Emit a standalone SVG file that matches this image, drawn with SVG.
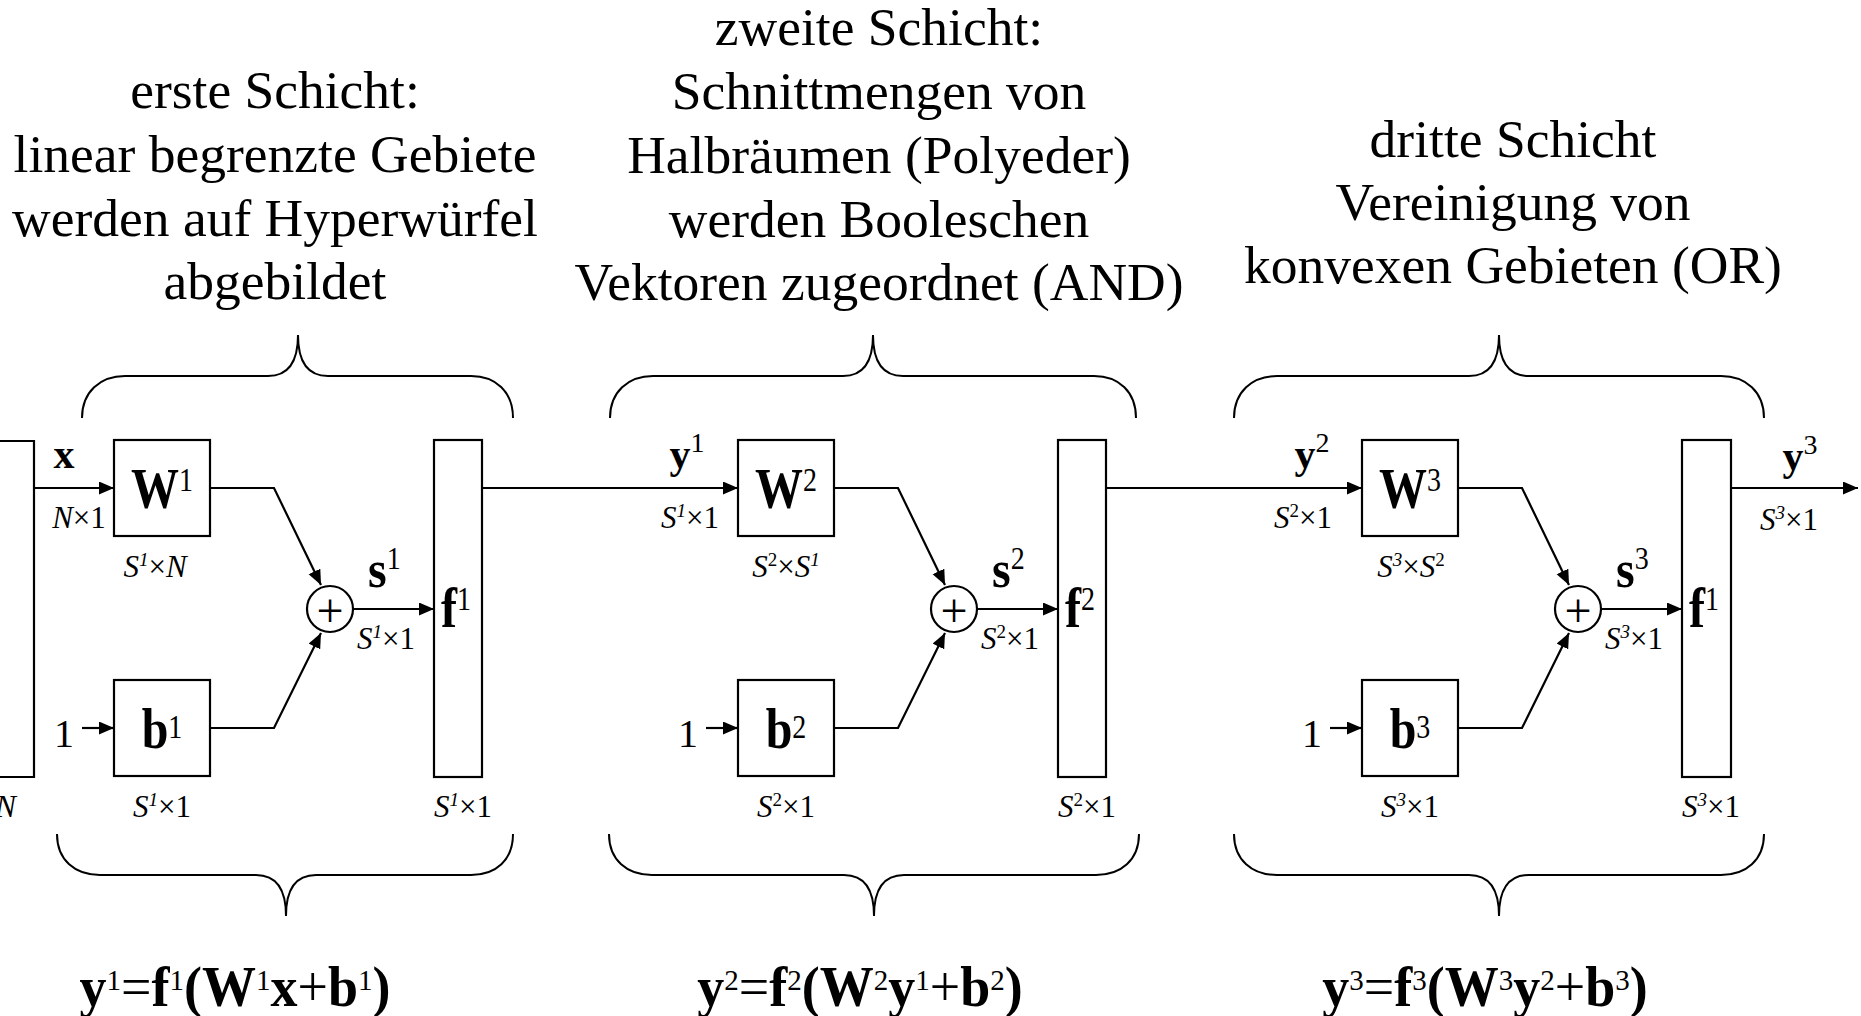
<svg xmlns="http://www.w3.org/2000/svg" width="1861" height="1016" viewBox="0 0 1861 1016">
<style>
.t{font-family:"Liberation Serif","Times New Roman",serif;fill:#000}
.big{font-size:53.5px}
.lbl{font-size:48px;font-weight:bold}
.vec{font-size:42px;font-weight:bold}
.sb{font-size:28px;font-weight:normal}
.dim{font-size:31px}
.ss{font-size:19px}
.i{font-style:italic}
.one{font-size:40px}
.plus{font-size:48px}
.eq{font-size:54px;font-weight:bold}
.es{font-size:29px;font-weight:normal}
.r{font-weight:normal}
.box{fill:#fff;stroke:#000;stroke-width:2.2}
.ln{fill:none;stroke:#000;stroke-width:2.2}
.ar{fill:none;stroke:#000;stroke-width:2.2;marker-end:url(#ah)}
.br{fill:none;stroke:#000;stroke-width:2}
</style>
<defs>
<marker id="ah" markerUnits="userSpaceOnUse" markerWidth="16" markerHeight="14" refX="15" refY="6.5" orient="auto">
<path d="M0,0 L15,6.5 L0,13 z" fill="#000"/>
</marker>
</defs>
<rect width="1861" height="1016" fill="#fff"/>

<g id="headings">
<text class="t big" text-anchor="middle" x="275" y="108">erste Schicht:</text>
<text class="t big" text-anchor="middle" x="275" y="172">linear begrenzte Gebiete</text>
<text class="t big" text-anchor="middle" x="275" y="236">werden auf Hyperwürfel</text>
<text class="t big" text-anchor="middle" x="275" y="299">abgebildet</text>
<text class="t big" text-anchor="middle" x="879" y="45">zweite Schicht:</text>
<text class="t big" text-anchor="middle" x="879" y="109">Schnittmengen von</text>
<text class="t big" text-anchor="middle" x="879" y="173">Halbräumen (Polyeder)</text>
<text class="t big" text-anchor="middle" x="879" y="237">werden Booleschen</text>
<text class="t big" text-anchor="middle" x="879" y="300">Vektoren zugeordnet (AND)</text>
<text class="t big" text-anchor="middle" x="1513" y="157">dritte Schicht</text>
<text class="t big" text-anchor="middle" x="1513" y="220">Vereinigung von</text>
<text class="t big" text-anchor="middle" x="1513" y="283">konvexen Gebieten (OR)</text>
</g>

<g id="braces">
<path class="br" d="M82,418 C82,392 100,376 125,376 L268,376 C288,376 298,362 298,335 C298,362 308,376 328,376 L471,376 C496,376 513,392 513,418"/>
<path class="br" d="M610,418 C610,392 628,376 653,376 L843,376 C863,376 873,362 873,335 C873,362 883,376 903,376 L1094,376 C1119,376 1136,392 1136,418"/>
<path class="br" d="M1234,418 C1234,392 1252,376 1277,376 L1469,376 C1489,376 1499,362 1499,335 C1499,362 1509,376 1529,376 L1721,376 C1746,376 1764,392 1764,418"/>
<path class="br" d="M57,834 C57,860 75,875 100,875 L256,875 C276,875 286,889 286,916 C286,889 296,875 316,875 L471,875 C496,875 513,860 513,834"/>
<path class="br" d="M609,834 C609,860 627,875 652,875 L844,875 C864,875 874,889 874,916 C874,889 884,875 904,875 L1096,875 C1121,875 1139,860 1139,834"/>
<path class="br" d="M1234,834 C1234,860 1252,875 1277,875 L1469,875 C1489,875 1499,889 1499,916 C1499,889 1509,875 1529,875 L1721,875 C1746,875 1764,860 1764,834"/>
</g>

<g id="connectors">
<line class="ar" x1="34" y1="488" x2="114" y2="488"/>
<line class="ar" x1="82" y1="728" x2="114" y2="728"/>
<polyline class="ar" points="210,488 274,488 321,585"/>
<polyline class="ar" points="210,728 274,728 321,633"/>
<line class="ar" x1="354" y1="609" x2="434" y2="609"/>
<line class="ar" x1="482" y1="488" x2="738" y2="488"/>
<line class="ar" x1="706" y1="728" x2="738" y2="728"/>
<polyline class="ar" points="834,488 898,488 945,585"/>
<polyline class="ar" points="834,728 898,728 945,633"/>
<line class="ar" x1="978" y1="609" x2="1058" y2="609"/>
<line class="ar" x1="1106" y1="488" x2="1362" y2="488"/>
<line class="ar" x1="1330" y1="728" x2="1362" y2="728"/>
<polyline class="ar" points="1458,488 1522,488 1569,585"/>
<polyline class="ar" points="1458,728 1522,728 1569,633"/>
<line class="ar" x1="1602" y1="609" x2="1682" y2="609"/>
<line class="ar" x1="1731" y1="488" x2="1858" y2="488"/>
</g>

<g id="input">
<path class="ln" d="M-5,441 L34,441 L34,777 L-5,777"/>
<text class="t dim i" text-anchor="end" x="16" y="817">N</text>
<text class="t vec" text-anchor="middle" x="64" y="468">x</text>
<text class="t dim" text-anchor="middle" x="79" y="528"><tspan class="i">N</tspan>×1</text>
<text class="t one" text-anchor="middle" x="64" y="747">1</text>
</g>

<g id="W1">
<rect class="box" x="114" y="440" width="96" height="96"/>
<text class="t lbl" text-anchor="middle" transform="translate(162,508) scale(1,1.2)">W<tspan class="sb" dy="-14">1</tspan></text>
<text class="t dim" text-anchor="middle" x="155" y="577"><tspan class="i">S</tspan><tspan class="i ss" dy="-11">1</tspan><tspan dy="11">×</tspan><tspan class="i">N</tspan></text>
</g>
<g id="b1">
<rect class="box" x="114" y="680" width="96" height="96"/>
<text class="t lbl" text-anchor="middle" transform="translate(162,748) scale(1,1.2)">b<tspan class="sb" dy="-8">1</tspan></text>
<text class="t dim" text-anchor="middle" x="162" y="817"><tspan class="i">S</tspan><tspan class="i ss" dy="-11">1</tspan><tspan dy="11">×1</tspan></text>
</g>
<g id="sum1">
<circle class="box" cx="330" cy="609" r="23"/>
<text class="t plus" text-anchor="middle" x="330" y="627">+</text>
<text class="t lbl" transform="translate(368,587) scale(1,1.1)">s<tspan class="sb" dy="-16">1</tspan></text>
<text class="t dim" text-anchor="middle" x="386" y="649"><tspan class="i">S</tspan><tspan class="i ss" dy="-11">1</tspan><tspan dy="11">×1</tspan></text>
</g>
<g id="f1">
<rect class="box" x="434" y="440" width="48" height="337"/>
<text class="t lbl" transform="translate(441,627) scale(1,1.2)">f<tspan class="sb" dy="-14">1</tspan></text>
<text class="t dim" text-anchor="middle" x="463" y="817"><tspan class="i">S</tspan><tspan class="i ss" dy="-11">1</tspan><tspan dy="11">×1</tspan></text>
</g>

<g id="y1label">
<text class="t vec" text-anchor="middle" x="687" y="468">y<tspan class="sb" dy="-16">1</tspan></text>
<text class="t dim" text-anchor="middle" x="690" y="528"><tspan class="i">S</tspan><tspan class="i ss" dy="-11">1</tspan><tspan dy="11">×1</tspan></text>
<text class="t one" text-anchor="middle" x="688" y="747">1</text>
</g>
<g id="W2">
<rect class="box" x="738" y="440" width="96" height="96"/>
<text class="t lbl" text-anchor="middle" transform="translate(786,508) scale(1,1.2)">W<tspan class="sb" dy="-14">2</tspan></text>
<text class="t dim" text-anchor="middle" x="786" y="577"><tspan class="i">S</tspan><tspan class="ss" dy="-11">2</tspan><tspan dy="11">×</tspan><tspan class="i">S</tspan><tspan class="i ss" dy="-11">1</tspan></text>
</g>
<g id="b2">
<rect class="box" x="738" y="680" width="96" height="96"/>
<text class="t lbl" text-anchor="middle" transform="translate(786,748) scale(1,1.2)">b<tspan class="sb" dy="-8">2</tspan></text>
<text class="t dim" text-anchor="middle" x="786" y="817"><tspan class="i">S</tspan><tspan class="ss" dy="-11">2</tspan><tspan dy="11">×1</tspan></text>
</g>
<g id="sum2">
<circle class="box" cx="954" cy="609" r="23"/>
<text class="t plus" text-anchor="middle" x="954" y="627">+</text>
<text class="t lbl" transform="translate(992,587) scale(1,1.1)">s<tspan class="sb" dy="-16">2</tspan></text>
<text class="t dim" text-anchor="middle" x="1010" y="649"><tspan class="i">S</tspan><tspan class="ss" dy="-11">2</tspan><tspan dy="11">×1</tspan></text>
</g>
<g id="f2">
<rect class="box" x="1058" y="440" width="48" height="337"/>
<text class="t lbl" transform="translate(1065,627) scale(1,1.2)">f<tspan class="sb" dy="-14">2</tspan></text>
<text class="t dim" text-anchor="middle" x="1087" y="817"><tspan class="i">S</tspan><tspan class="ss" dy="-11">2</tspan><tspan dy="11">×1</tspan></text>
</g>

<g id="y2label">
<text class="t vec" text-anchor="middle" x="1312" y="468">y<tspan class="sb" dy="-16">2</tspan></text>
<text class="t dim" text-anchor="middle" x="1303" y="528"><tspan class="i">S</tspan><tspan class="ss" dy="-11">2</tspan><tspan dy="11">×1</tspan></text>
<text class="t one" text-anchor="middle" x="1312" y="747">1</text>
</g>
<g id="W3">
<rect class="box" x="1362" y="440" width="96" height="96"/>
<text class="t lbl" text-anchor="middle" transform="translate(1410,508) scale(1,1.2)">W<tspan class="sb" dy="-14">3</tspan></text>
<text class="t dim" text-anchor="middle" x="1411" y="577"><tspan class="i">S</tspan><tspan class="i ss" dy="-11">3</tspan><tspan dy="11">×</tspan><tspan class="i">S</tspan><tspan class="ss" dy="-11">2</tspan></text>
</g>
<g id="b3">
<rect class="box" x="1362" y="680" width="96" height="96"/>
<text class="t lbl" text-anchor="middle" transform="translate(1410,748) scale(1,1.2)">b<tspan class="sb" dy="-8">3</tspan></text>
<text class="t dim" text-anchor="middle" x="1410" y="817"><tspan class="i">S</tspan><tspan class="i ss" dy="-11">3</tspan><tspan dy="11">×1</tspan></text>
</g>
<g id="sum3">
<circle class="box" cx="1578" cy="609" r="23"/>
<text class="t plus" text-anchor="middle" x="1578" y="627">+</text>
<text class="t lbl" transform="translate(1616,587) scale(1,1.1)">s<tspan class="sb" dy="-16">3</tspan></text>
<text class="t dim" text-anchor="middle" x="1634" y="649"><tspan class="i">S</tspan><tspan class="i ss" dy="-11">3</tspan><tspan dy="11">×1</tspan></text>
</g>
<g id="f3">
<rect class="box" x="1682" y="440" width="49" height="337"/>
<text class="t lbl" transform="translate(1689,627) scale(1,1.2)">f<tspan class="sb" dy="-14">1</tspan></text>
<text class="t dim" text-anchor="middle" x="1711" y="817"><tspan class="i">S</tspan><tspan class="i ss" dy="-11">3</tspan><tspan dy="11">×1</tspan></text>
</g>
<g id="output">
<text class="t vec" text-anchor="middle" x="1800" y="470">y<tspan class="sb" dy="-16">3</tspan></text>
<text class="t dim" text-anchor="middle" x="1789" y="530"><tspan class="i">S</tspan><tspan class="i ss" dy="-11">3</tspan><tspan dy="11">×1</tspan></text>
</g>

<g id="equations">
<text class="t eq" text-anchor="middle" transform="translate(235,1006) scale(1,1.05)">y<tspan class="es" dy="-15">1</tspan><tspan class="r" dy="15">=</tspan>f<tspan class="es" dy="-15">1</tspan><tspan dy="15">(W</tspan><tspan class="es" dy="-15">1</tspan><tspan dy="15">x</tspan><tspan class="r">+</tspan>b<tspan class="es" dy="-15">1</tspan><tspan dy="15">)</tspan></text>
<text class="t eq" text-anchor="middle" transform="translate(860,1006) scale(1,1.05)">y<tspan class="es" dy="-15">2</tspan><tspan class="r" dy="15">=</tspan>f<tspan class="es" dy="-15">2</tspan><tspan dy="15">(W</tspan><tspan class="es" dy="-15">2</tspan><tspan dy="15">y</tspan><tspan class="es" dy="-15">1</tspan><tspan class="r" dy="15">+</tspan>b<tspan class="es" dy="-15">2</tspan><tspan dy="15">)</tspan></text>
<text class="t eq" text-anchor="middle" transform="translate(1485,1006) scale(1,1.05)">y<tspan class="es" dy="-15">3</tspan><tspan class="r" dy="15">=</tspan>f<tspan class="es" dy="-15">3</tspan><tspan dy="15">(W</tspan><tspan class="es" dy="-15">3</tspan><tspan dy="15">y</tspan><tspan class="es" dy="-15">2</tspan><tspan class="r" dy="15">+</tspan>b<tspan class="es" dy="-15">3</tspan><tspan dy="15">)</tspan></text>
</g>
</svg>
